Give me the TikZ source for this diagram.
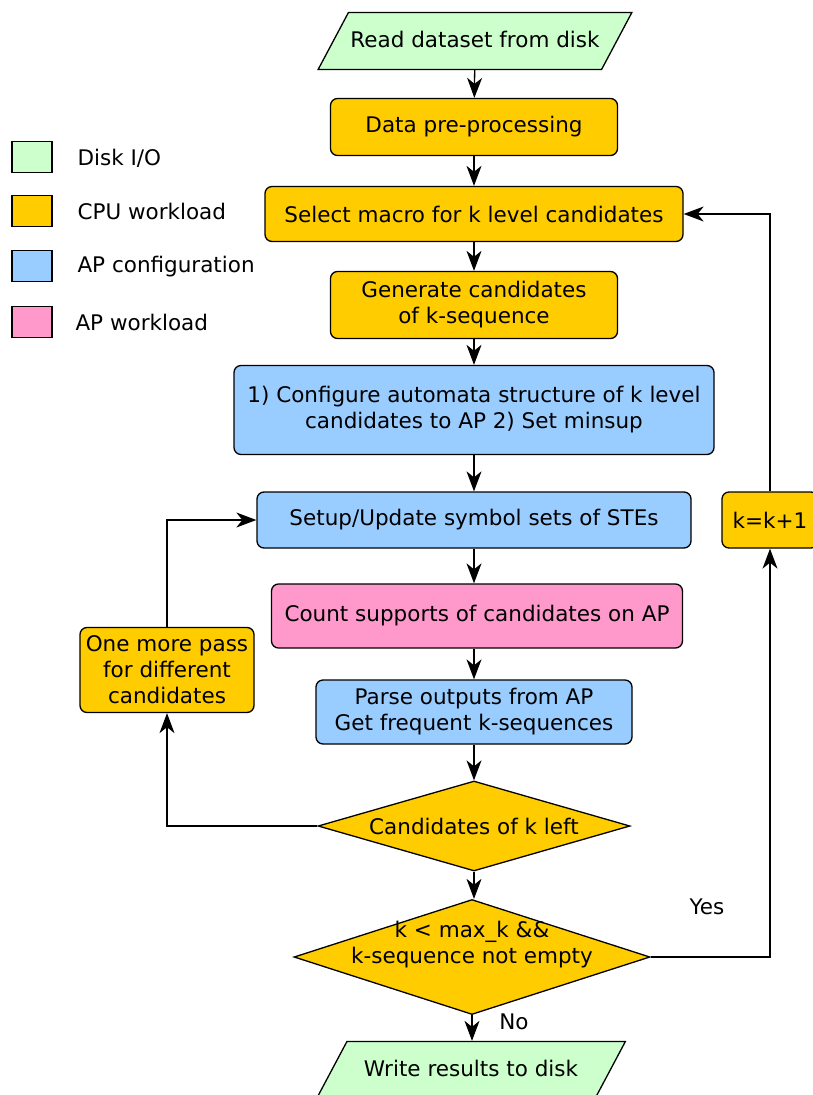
\documentclass[tikz,border=0pt]{standalone}
\usepackage{fontspec}
\setmainfont{DejaVu Sans}
\definecolor{mDisk}{HTML}{CCFFCC}
\definecolor{mCpu}{HTML}{FFCC00}
\definecolor{mApConf}{HTML}{99CCFF}
\definecolor{mApWork}{HTML}{FF99CC}
\usetikzlibrary{positioning,arrows.meta,shapes.geometric}

\begin{document}
\begin{tikzpicture}[x=1pt, y=-1pt, font=\fontsize{21.5}{26}\selectfont,
  box/.style={draw, line width=1.3pt, rounded corners=7pt, align=center, inner sep=1pt},
  iobox/.style={draw, line width=1.3pt, fill=mDisk, trapezium, trapezium left angle=62,
    trapezium right angle=118, inner xsep=2pt, inner ysep=0pt, text height=35pt, text depth=22pt},
  cond/.style={draw, line width=1.3pt, fill=mCpu, diamond, aspect=3.2, inner sep=-12pt, align=center},
  swatch/.style={draw, line width=1.3pt, minimum width=40pt, minimum height=31pt},
  flow/.style={line width=1.3pt, -{Stealth[length=20pt, width=15pt, inset=6pt]}}]
\useasboundingbox (0,0) rectangle (812,1095);
% legend
\node[swatch, fill=mDisk] (lgDisk) at (32,157) {};
\node[swatch, fill=mCpu] (lgCpu) at (32,211) {};
\node[swatch, fill=mApConf] (lgConf) at (32,266) {};
\node[swatch, fill=mApWork] (lgWork) at (32,322) {};
\node[anchor=west] (lgDiskT) at (74,158) {Disk I/O};
\node[anchor=west] (lgCpuT) at (74,211) {CPU workload};
\node[anchor=west] (lgConfT) at (74,267) {AP configuration};
\node[anchor=west] (lgWorkT) at (72,322) {AP workload};
% main flow
\node[iobox] (read) at (475,41) {Read dataset from disk};
\node[box, fill=mCpu, minimum width=287pt, minimum height=57pt] (prep) at (474,127) {Data pre-processing};
\node[box, fill=mCpu, minimum width=418pt, minimum height=55pt] (macro) at (474,214) {Select macro for k level candidates};
\node[box, fill=mCpu, minimum width=287pt, minimum height=67pt] (gen) at (474,305) {Generate candidates\\of k-sequence};
\node[box, fill=mApConf, minimum width=480pt, minimum height=89pt] (conf) at (474,410) {1) Configure automata structure of k level\\candidates to AP 2) Set minsup};
\node[box, fill=mApConf, minimum width=434pt, minimum height=56pt] (setup) at (474,520) {Setup/Update symbol sets of STEs};
\node[box, fill=mApWork, minimum width=411pt, minimum height=64pt] (count) at (477,616) {Count supports of candidates on AP};
\node[box, fill=mApConf, minimum width=316pt, minimum height=64pt] (parse) at (474,712) {Parse outputs from AP\\Get frequent k-sequences};
\node[cond, minimum width=312pt, minimum height=90pt] (cand) at (474,826) {Candidates of k left};
\node[cond, minimum width=356pt, minimum height=115pt,
  label={[align=center, yshift=12pt]center:k {\char`<} max\_k \&\&\\k-sequence not empty}] (kmax) at (472,957) {};
\node[iobox, inner xsep=17pt] (write) at (471,1070) {Write results to disk};
% side boxes
\node[box, fill=mCpu, minimum width=96pt, minimum height=56pt] (inc) at (770,520) {k=k+1};
\node[box, fill=mCpu, minimum width=174pt, minimum height=85pt, inner sep=0pt] (pass) at (167,670) {One more pass\\for different\\candidates};
\node (yes) at (707,907) {Yes};
\node (no) at (514,1022) {No};
% arrows
\draw[flow] (read) -- (prep);
\draw[flow] (prep) -- (macro);
\draw[flow] (macro) -- (gen);
\draw[flow] (gen) -- (conf);
\draw[flow] (conf) -- (setup);
\draw[flow] (setup) -- (count.north -| setup.south);
\draw[flow] (count.south -| parse.north) -- (parse);
\draw[flow] (parse) -- (cand.north -| parse.south);
\draw[flow] (cand) -- (kmax.north -| cand.south);
\draw[flow] (kmax.south) -- (write.north -| kmax.south);
\draw[flow] (cand.west) -| (pass.south);
\draw[flow] (pass.north) |- (setup.west);
\draw[flow] (kmax.east) -| (inc.south);
\draw[flow] (inc.north) |- (macro.east);
\end{tikzpicture}
\end{document}
